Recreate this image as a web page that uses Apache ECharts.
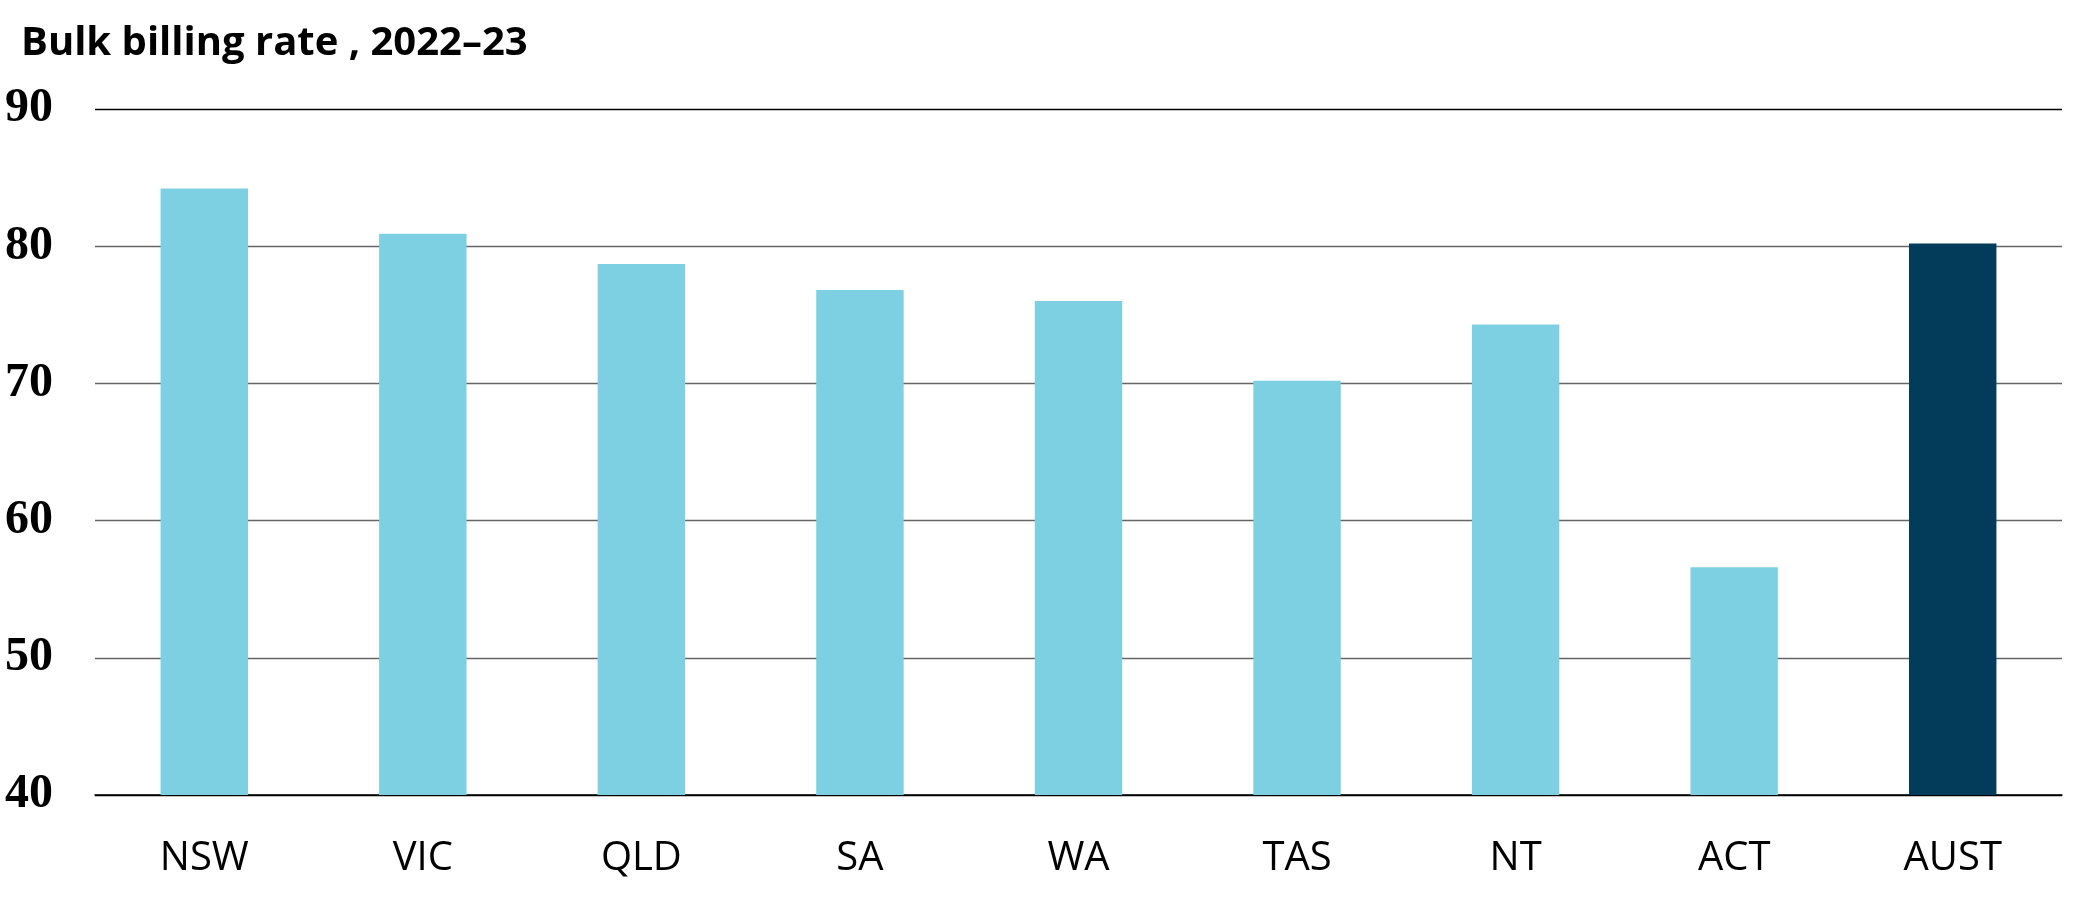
<!DOCTYPE html>
<html lang="en">
<head>
    <meta charset="UTF-8">
    <title>Bulk billing rate, 2022–23</title>
    <script src="https://cdn.jsdelivr.net/npm/echarts@6/dist/echarts.min.js"></script>
    <style>
        html, body { margin: 0; padding: 0; background: #fff; }
        #chart { width: 2077px; height: 911px; }
    </style>
</head>
<body>
<div id="chart"></div>
<script>
    // data
    const states = ['NSW', 'VIC', 'QLD', 'SA', 'WA', 'TAS', 'NT', 'ACT', 'AUST'];
    const bulkBillingRate = [84.2, 80.9, 78.7, 76.8, 76.0, 70.2, 74.3, 56.6, 80.2];
    const highlight = 'AUST';

    const chart = echarts.init(document.getElementById('chart'));

    chart.setOption({
        animation: false,
        title: {
            text: 'Bulk billing rate , 2022–23',
            left: 16,
            top: 19,
            textStyle: {
                fontFamily: 'Open Sans',
                fontWeight: 'bold',
                fontSize: 40,
                color: '#000'
            }
        },
        grid: { left: 95, right: 15, top: 109, bottom: 116 },
        xAxis: {
            type: 'category',
            data: states,
            axisLine: { lineStyle: { color: '#000', width: 1.5 } },
            axisTick: { show: false },
            axisLabel: {
                margin: 44,
                fontFamily: 'Open Sans',
                fontSize: 40,
                color: '#000'
            }
        },
        yAxis: {
            type: 'value',
            min: 40,
            max: 90,
            interval: 10,
            axisLine: { show: false },
            axisTick: { show: false },
            axisLabel: {
                margin: 42,
                fontFamily: 'Liberation Serif',
                fontWeight: 'bold',
                fontSize: 48,
                color: '#000'
            },
            splitLine: {
                lineStyle: {
                    color: ['#000', '#666', '#666', '#666', '#666', '#000'],
                    width: 1.3
                }
            }
        },
        series: [{
            type: 'bar',
            barWidth: '40%',
            data: bulkBillingRate.map((v, i) => ({
                value: v,
                itemStyle: { color: states[i] === highlight ? '#033C5A' : '#7DD0E1' }
            }))
        }]
    });
</script>
</body>
</html>
